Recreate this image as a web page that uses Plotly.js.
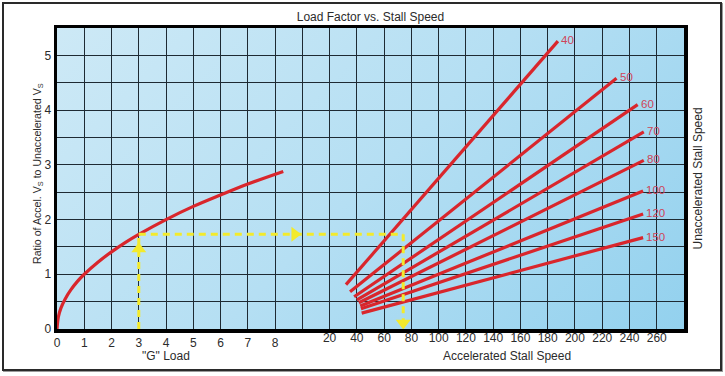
<!DOCTYPE html>
<html>
<head>
<meta charset="utf-8">
<script src="https://cdn.plot.ly/plotly-3.0.1.min.js"></script>
<style>
  html, body { margin: 0; padding: 0; background: #ffffff; }
  #wrap { position: relative; width: 725px; height: 376px; overflow: hidden; }
  #bg { position: absolute; left: 57px; top: 28px; width: 627px; height: 301px;
        background: linear-gradient(135deg, #cde9f6 0%, #b5dff3 50%, #93d1ee 100%); }
  #chart { position: absolute; left: 0; top: 0; width: 725px; height: 376px; }
  #frame { position: absolute; left: 2px; top: 2px; width: 720px; height: 369px;
           box-sizing: border-box; border: 2px solid #2a2a2a; pointer-events: none;
           box-shadow: 1px 1px 0 #9a9a9a; }
</style>
</head>
<body>
<div id="wrap">
  <div id="bg"></div>
  <div id="chart"></div>
  <div id="frame"></div>
</div>
<script>
// ---- Data ----
// Left curve: "G" load vs ratio of accelerated to unaccelerated stall speed
const gLoad = [0, 0.05, 0.15, 0.3, 0.5, 0.75, 1, 1.5, 2, 2.5, 3, 4, 5, 6, 7, 8.3];
const gRatio = [0, 0.22, 0.39, 0.55, 0.71, 0.87, 1.0, 1.22, 1.41, 1.58, 1.73, 2.0, 2.24, 2.45, 2.65, 2.88];

// Right fan: one line per unaccelerated stall speed
const stallLabels = ['40', '50', '60', '70', '80', '100', '120', '150'];
const startSpeed = [32, 35, 38, 40, 41.5, 42.5, 43, 43.5];
const startRatio = [0.81, 0.68, 0.59, 0.53, 0.48, 0.42, 0.37, 0.29];
const endSpeed = [187.5, 230.5, 246, 250.5, 250.5, 250, 250, 250];
const endRatio = [5.26, 4.58, 4.10, 3.60, 3.08, 2.52, 2.10, 1.67];

// Worked example (yellow guide)
const guideG = 3;
const guideRatio = 1.73;
const guideSpeed = 74;
const arrowUpRatio = 1.46;
const arrowRightG = 8.72;
const arrowDownRatio = 0.11;

// Tick labels
const gTicks = [0, 1, 2, 3, 4, 5, 6, 7, 8];
const speedTicks = [20, 40, 60, 80, 100, 120, 140, 160, 180, 200, 220, 240, 260];
const ratioTicks = [0, 1, 2, 3, 4, 5];

// ---- Axis ranges ----
const xRange = [0, 23];
const x2Range = [-180, 280];
const yRange = [0, 5.5];

// G value expressed on the speed axis (through the two axis ranges)
function gToSpeed(g) {
  return x2Range[0] + (g - xRange[0]) * (x2Range[1] - x2Range[0]) / (xRange[1] - xRange[0]);
}

const RED = '#d9262c';
const YEL = '#f3ea2c';
const FONT = 'Liberation Sans, Arial, Helvetica, sans-serif';

const traces = [];

traces.push({
  x: gLoad, y: gRatio, xaxis: 'x', yaxis: 'y', mode: 'lines',
  line: { color: RED, width: 3.2, shape: 'spline' }, hoverinfo: 'skip'
});

for (let i = 0; i < stallLabels.length; i++) {
  traces.push({
    x: [startSpeed[i], endSpeed[i]], y: [startRatio[i], endRatio[i]],
    xaxis: 'x2', yaxis: 'y', mode: 'lines',
    line: { color: RED, width: 3.2 }, hoverinfo: 'skip'
  });
}

// Yellow dashed guides
traces.push({
  x: [guideG, guideG], y: [0, guideRatio], xaxis: 'x', yaxis: 'y', mode: 'lines',
  line: { color: YEL, width: 3, dash: '7px,5px' }, hoverinfo: 'skip'
});
traces.push({
  x: [gToSpeed(guideG), guideSpeed], y: [guideRatio, guideRatio], xaxis: 'x2', yaxis: 'y', mode: 'lines',
  line: { color: YEL, width: 3, dash: '7px,5px' }, hoverinfo: 'skip'
});
traces.push({
  x: [guideSpeed, guideSpeed], y: [guideRatio, 0], xaxis: 'x2', yaxis: 'y', mode: 'lines',
  line: { color: YEL, width: 3, dash: '7px,5px' }, hoverinfo: 'skip'
});
// Arrow heads
traces.push({
  x: [guideG], y: [arrowUpRatio], xaxis: 'x', yaxis: 'y', mode: 'markers',
  marker: { symbol: 'triangle-up', size: 13, color: YEL }, cliponaxis: false, hoverinfo: 'skip'
});
traces.push({
  x: [arrowRightG], y: [guideRatio], xaxis: 'x', yaxis: 'y', mode: 'markers',
  marker: { symbol: 'triangle-right', size: 13, color: YEL }, cliponaxis: false, hoverinfo: 'skip'
});
traces.push({
  x: [guideSpeed], y: [arrowDownRatio], xaxis: 'x2', yaxis: 'y', mode: 'markers',
  marker: { symbol: 'triangle-down', size: 13, color: YEL }, cliponaxis: false, hoverinfo: 'skip'
});

// Grid ticks (every unit on x, every half unit on y)
const xGridVals = [];
const xGridText = [];
for (let v = xRange[0]; v <= xRange[1]; v++) {
  xGridVals.push(v);
  xGridText.push(gTicks.includes(v) ? String(v) : ' ');
}
const yGridVals = [];
const yGridText = [];
for (let v = 0; v <= yRange[1] + 1e-9; v += 0.5) {
  const r = Math.round(v * 10) / 10;
  yGridVals.push(r);
  yGridText.push(ratioTicks.includes(r) ? String(r) : ' ');
}

const tickFont = { family: FONT, size: 12, color: '#2b2b2b' };
const annotations = [];

for (let i = 0; i < stallLabels.length; i++) {
  annotations.push({
    xref: 'x2', yref: 'y', x: endSpeed[i], y: endRatio[i],
    text: stallLabels[i], showarrow: false, xanchor: 'left', yanchor: 'middle',
    xshift: 1, yshift: 1, font: { family: FONT, size: 11.5, color: '#cf4458' }
  });
}
annotations.push({
  xref: 'x', yref: 'paper', x: 4, y: 0, yanchor: 'middle', yshift: -27,
  text: '"G" Load', showarrow: false, font: { family: FONT, size: 12, color: '#2b2b2b' }
});
annotations.push({
  xref: 'x2', yref: 'paper', x: 150, y: 0, yanchor: 'middle', yshift: -27,
  text: 'Accelerated Stall Speed', showarrow: false, font: { family: FONT, size: 12, color: '#2b2b2b' }
});
annotations.push({
  xref: 'paper', yref: 'paper', x: 0, y: 0.515, xanchor: 'center', yanchor: 'middle', xshift: -19,
  textangle: -90, text: 'Ratio of Accel. V<sub>S</sub> to Unaccelerated V<sub>S</sub>',
  showarrow: false, font: { family: FONT, size: 10.6, color: '#2b2b2b' }
});
annotations.push({
  xref: 'paper', yref: 'paper', x: 1, y: 0.5, xanchor: 'center', yanchor: 'middle', xshift: 13,
  textangle: -90, text: 'Unaccelerated Stall Speed',
  showarrow: false, font: { family: FONT, size: 12, color: '#2b2b2b' }
});

const layout = {
  width: 725, height: 376,
  margin: { l: 57, r: 41, t: 28, b: 47, pad: 0 },
  paper_bgcolor: 'rgba(0,0,0,0)',
  plot_bgcolor: 'rgba(0,0,0,0)',
  showlegend: false,
  hovermode: false,
  title: {
    text: 'Load Factor vs. Stall Speed', x: 0.511, xanchor: 'center', y: 0.955, yanchor: 'middle',
    font: { family: FONT, size: 12, color: '#2b2b2b' }
  },
  xaxis: {
    range: xRange, tickmode: 'array', tickvals: xGridVals, ticktext: xGridText,
    showgrid: true, gridcolor: '#1e2a33', gridwidth: 1, zeroline: false,
    showline: true, linecolor: '#000000', linewidth: 3.5, mirror: true,
    ticks: '', tickfont: tickFont, fixedrange: true
  },
  xaxis2: {
    range: x2Range, overlaying: 'x', side: 'bottom', anchor: 'y',
    tickmode: 'array', tickvals: speedTicks, ticktext: speedTicks.map(String),
    showgrid: false, zeroline: false, showline: false, ticks: '', tickfont: tickFont, fixedrange: true
  },
  yaxis: {
    range: yRange, tickmode: 'array', tickvals: yGridVals, ticktext: yGridText,
    showgrid: true, gridcolor: '#1e2a33', gridwidth: 1, zeroline: false,
    showline: true, linecolor: '#000000', linewidth: 3.5, mirror: true,
    ticks: '', tickfont: tickFont, fixedrange: true
  },
  annotations: annotations
};

Plotly.newPlot('chart', traces, layout, { staticPlot: true, displayModeBar: false });
</script>
</body>
</html>
